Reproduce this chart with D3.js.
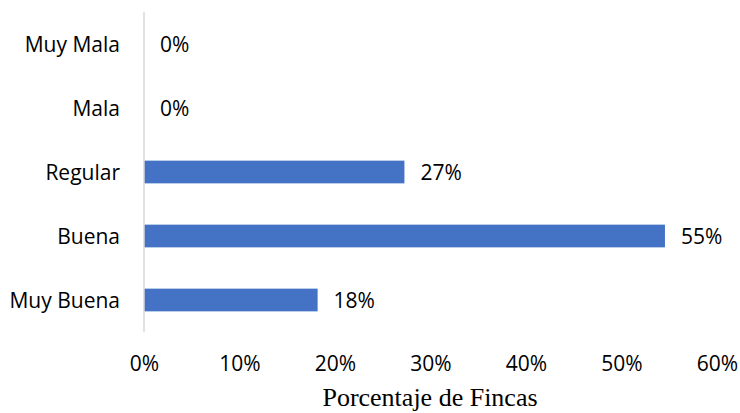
<!DOCTYPE html>
<html>
<head>
<meta charset="utf-8">
<script src="https://cdn.jsdelivr.net/npm/d3@7"></script>
<style>
  body { margin: 0; background: #fff; }
  .cat, .val, .tick-label { font-family: "Open Sans", sans-serif; font-size: 21px; fill: #000; }
  .title { font-family: "Liberation Serif", "Times New Roman", serif; font-size: 26px; fill: #000; }
</style>
</head>
<body>
<div class="chart"></div>
<script>
// Chart data
var categories = ["Muy Mala", "Mala", "Regular", "Buena", "Muy Buena"];
var values = [0, 0, 27.27, 54.55, 18.18];
var valueLabels = ["0%", "0%", "27%", "55%", "18%"];
var tickValues = [0, 10, 20, 30, 40, 50, 60];

var svgWidth = 740;
var svgHeight = 413;

var margin = {top: 12, right: 23, bottom: 81, left: 144};
var width = svgWidth - margin.left - margin.right;
var height = svgHeight - margin.top - margin.bottom;

var svg = d3.select(".chart")
  .append("svg")
  .attr("width", svgWidth)
  .attr("height", svgHeight);

var chart = svg.append("g")
  .attr("transform", "translate(" + margin.left + "," + margin.top + ")");

// Scales
var xScale = d3.scaleLinear().domain([0, 60]).range([0, width]);
var yScale = d3.scaleBand().domain(categories).range([0, height]).paddingInner(0.645).paddingOuter(0.3225);

// Bars
chart.selectAll("rect.bar")
  .data(values)
  .enter().append("rect")
  .attr("class", "bar")
  .attr("x", 0)
  .attr("y", function(d, i) { return yScale(categories[i]); })
  .attr("width", function(d) { return xScale(d); })
  .attr("height", yScale.bandwidth())
  .attr("fill", "#4472c4");

// Vertical axis line
chart.append("line")
  .attr("x1", 0).attr("x2", 0)
  .attr("y1", 0).attr("y2", height)
  .attr("stroke", "#d9d9d9")
  .attr("stroke-width", 1.5);

// Category labels
chart.selectAll("text.cat")
  .data(categories)
  .enter().append("text")
  .attr("class", "cat")
  .attr("x", -24)
  .attr("y", function(d) { return yScale(d) + yScale.bandwidth() / 2 + 8; })
  .attr("text-anchor", "end")
  .text(function(d) { return d; });

// Value labels
chart.selectAll("text.val")
  .data(values)
  .enter().append("text")
  .attr("class", "val")
  .attr("x", function(d) { return xScale(d) + 16; })
  .attr("y", function(d, i) { return yScale(categories[i]) + yScale.bandwidth() / 2 + 8; })
  .text(function(d, i) { return valueLabels[i]; });

// X axis (labels only)
var xAxis = d3.axisBottom(xScale)
  .tickValues(tickValues)
  .tickSize(0)
  .tickPadding(0)
  .tickFormat(function(d) { return d + "%"; });

var xAxisG = chart.append("g")
  .attr("transform", "translate(0," + height + ")")
  .call(xAxis);
xAxisG.select(".domain").remove();
xAxisG.attr("font-family", null).attr("font-size", null);
xAxisG.selectAll("text")
  .attr("class", "tick-label")
  .attr("dy", null)
  .attr("y", 39);

// Axis title
svg.append("text")
  .attr("class", "title")
  .attr("x", 430)
  .attr("y", 406)
  .attr("text-anchor", "middle")
  .text("Porcentaje de Fincas");
</script>
</body>
</html>
